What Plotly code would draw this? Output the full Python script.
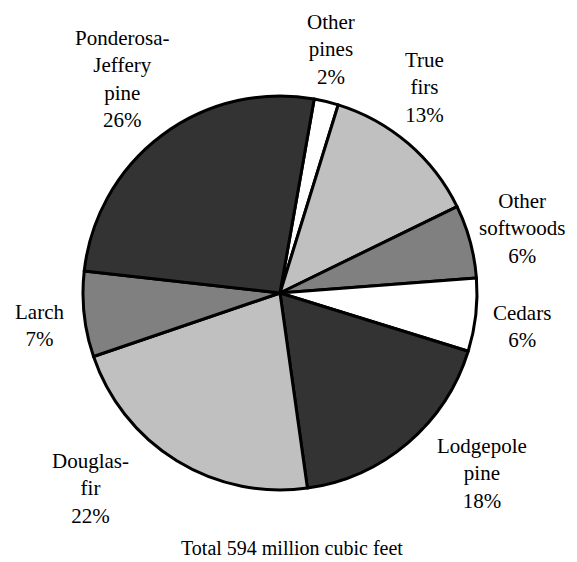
import plotly.graph_objects as go

# Softwood volume by species group, percent of total
species = ["Other pines", "True firs", "Other softwoods", "Cedars",
           "Lodgepole pine", "Douglas-fir", "Larch", "Ponderosa-Jeffery pine"]
label_text = ["Other<br>pines", "True<br>firs", "Other<br>softwoods", "Cedars",
              "Lodgepole<br>pine", "Douglas-<br>fir", "Larch", "Ponderosa-<br>Jeffery<br>pine"]
percent = [2, 13, 6, 6, 18, 22, 7, 26]
total_note = "Total 594 million cubic feet"

# Fill shades for each wedge
fills = ["#ffffff", "#c0c0c0", "#808080", "#ffffff",
         "#333333", "#c0c0c0", "#808080", "#333333"]

W, H = 577, 562
cx, cy, r = 280, 293, 197

# Label anchor points in pixels (centre of each text block)
label_xy = [(331, 49), (424, 87), (522, 228), (522, 326),
            (482, 474), (90, 488), (39, 325), (122, 79)]

FONT = "Liberation Serif"

fig = go.Figure(go.Pie(
    labels=species,
    values=percent,
    sort=False,
    direction="clockwise",
    rotation=10,
    marker=dict(colors=fills, line=dict(color="black", width=3)),
    textinfo="none",
    hoverinfo="label+percent",
    showlegend=False,
    domain=dict(x=[(cx - r) / W, (cx + r) / W],
                y=[1 - (cy + r) / H, 1 - (cy - r) / H]),
))

annotations = []
for txt, p, (lx, ly) in zip(label_text, percent, label_xy):
    annotations.append(dict(
        text=f"{txt}<br>{p}%",
        x=lx / W, y=1 - ly / H, xref="paper", yref="paper",
        xanchor="center", yanchor="middle", showarrow=False,
        align="center", font=dict(family=FONT, size=21, color="#000000"),
    ))
annotations.append(dict(
    text=total_note, x=292 / W, y=1 - 548 / H, xref="paper", yref="paper",
    xanchor="center", yanchor="middle", showarrow=False,
    font=dict(family=FONT, size=20, color="#000000"),
))

fig.update_layout(
    width=W, height=H,
    margin=dict(l=0, r=0, t=0, b=0),
    paper_bgcolor="white", plot_bgcolor="white",
    font=dict(family=FONT),
    annotations=annotations,
)

fig.write_html("out.html")
